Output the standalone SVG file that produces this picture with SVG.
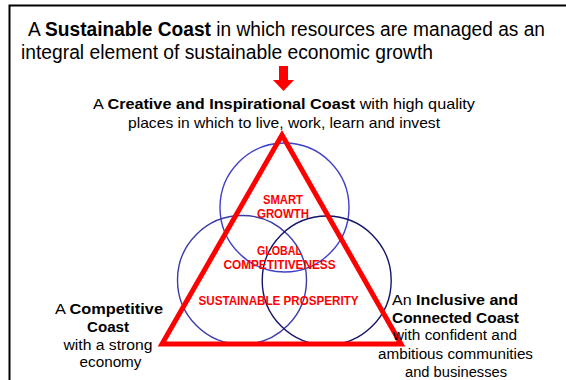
<svg xmlns="http://www.w3.org/2000/svg" width="566" height="380" viewBox="0 0 566 380">
  <style>
    .txt { font-family: "Liberation Sans", Arial, sans-serif; fill: #000; }
    .b { font-weight: bold; }
    .lbl { font-family: "Liberation Sans", Arial, sans-serif; font-weight: bold; font-size: 12.5px; fill: #ff0000; text-anchor: middle; }
    .mid { text-anchor: middle; }
    .circle { fill: none; stroke-width: 1.4; }
  </style>

  <rect width="566" height="380" fill="#ffffff"/>
  <!-- frame (open at right and bottom) -->
  <path d="M9.5,382 V5.5 H568" fill="none" stroke="#000" stroke-width="2"/>

  <g id="title">
    <text class="txt" x="28" y="36" font-size="19.5" textLength="517" lengthAdjust="spacingAndGlyphs">A <tspan class="b">Sustainable Coast</tspan> in which resources are managed as an</text>
    <text class="txt" x="21" y="59" font-size="20" textLength="412" lengthAdjust="spacingAndGlyphs">integral element of sustainable economic growth</text>
  </g>

  <g id="connectors">
    <!-- downward arrow -->
    <polygon points="279,66 288,66 288,80 294,80 283.5,91 273,80 279,80" fill="#ff0000"/>
  </g>

  <g id="creative-coast">
    <text class="txt mid" x="284" y="109" font-size="15" textLength="382" lengthAdjust="spacingAndGlyphs">A <tspan class="b">Creative and Inspirational Coast</tspan> with high quality</text>
    <text class="txt mid" x="284" y="128" font-size="15" textLength="312" lengthAdjust="spacingAndGlyphs">places in which to live, work, learn and invest</text>
  </g>

  <g id="circles">
    <circle class="circle" cx="284.5" cy="207.5" r="64.5" stroke="#4040c8"/>
    <circle class="circle" cx="242" cy="280" r="64.5" stroke="#3c3ca8"/>
    <circle class="circle" cx="326.7" cy="280.5" r="64.5" stroke="#14146a"/>
  </g>

  <g id="triangle">
    <polygon points="282,135 162,344 401,344" fill="none" stroke="#ff0000" stroke-width="5" stroke-linejoin="miter"/>
  </g>

  <g id="smart-growth">
    <text class="lbl" x="283" y="204" textLength="40" lengthAdjust="spacingAndGlyphs">SMART</text>
    <text class="lbl" x="283" y="218" textLength="52" lengthAdjust="spacingAndGlyphs">GROWTH</text>
  </g>
  <g id="global-competitiveness">
    <text class="lbl" x="279.5" y="254.5" textLength="45" lengthAdjust="spacingAndGlyphs">GLOBAL</text>
    <text class="lbl" x="279.5" y="268.5" textLength="112" lengthAdjust="spacingAndGlyphs">COMPETITIVENESS</text>
  </g>
  <g id="sustainable-prosperity">
    <text class="lbl" x="278.5" y="304.5" textLength="160" lengthAdjust="spacingAndGlyphs">SUSTAINABLE PROSPERITY</text>
  </g>

  <g id="competitive-coast">
    <text class="txt mid" x="109" y="314" font-size="15.5" textLength="108" lengthAdjust="spacingAndGlyphs">A <tspan class="b">Competitive</tspan></text>
    <text class="txt mid b" x="108" y="332" font-size="15.5" textLength="42" lengthAdjust="spacingAndGlyphs">Coast</text>
    <text class="txt mid" x="108" y="349.5" font-size="15.5" textLength="89" lengthAdjust="spacingAndGlyphs">with a strong</text>
    <text class="txt mid" x="110.5" y="367" font-size="15.5" textLength="62" lengthAdjust="spacingAndGlyphs">economy</text>
  </g>

  <g id="inclusive-coast">
    <text class="txt mid" x="455" y="305" font-size="15.5" textLength="126" lengthAdjust="spacingAndGlyphs">An <tspan class="b">Inclusive and</tspan></text>
    <text class="txt mid b" x="455.5" y="322.5" font-size="15.5" textLength="127" lengthAdjust="spacingAndGlyphs">Connected Coast</text>
    <text class="txt mid" x="455" y="340" font-size="15.5" textLength="124" lengthAdjust="spacingAndGlyphs">with confident and</text>
    <text class="txt mid" x="455.5" y="359" font-size="15.5" textLength="155" lengthAdjust="spacingAndGlyphs">ambitious communities</text>
    <text class="txt mid" x="456" y="376.5" font-size="15.5" textLength="102" lengthAdjust="spacingAndGlyphs">and businesses</text>
  </g>
</svg>
